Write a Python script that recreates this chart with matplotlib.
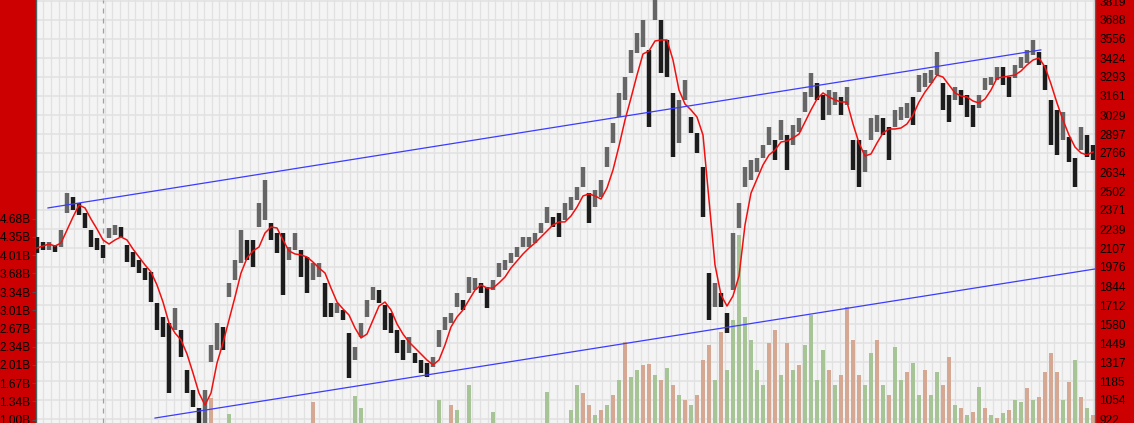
import matplotlib
matplotlib.use("Agg")
import matplotlib.pyplot as plt
import numpy as np

plt.rcParams['font.family'] = ['Liberation Sans', 'DejaVu Sans']

# ---------------- data ----------------
# bar index: one sample per ~6 px of the reference chart
high = [2184, 2149, 2149, 2128, 2232, 2488, 2461, 2419, 2350, 2232,
        2177, 2128, 2246, 2267, 2253, 2128, 2080, 2024, 1969, 1941,
        1726, 1629, 1588, 1692, 1539, 1262, 1123, 999, 1123, 1435,
        1588, 1560, 1865, 2024, 2232, 2163, 2163, 2419, 2579, 2281,
        2211, 2211, 2114, 2211, 2093, 2045, 2003, 2003, 1865, 1726,
        1726, 1678, 1518, 1421, 1588, 1747, 1837, 1816, 1712, 1657,
        1539, 1470, 1491, 1380, 1331, 1310, 1352, 1539, 1629, 1657,
        1796, 1747, 1906, 1899, 1865, 1837, 1886, 2003, 2024, 2073,
        2114, 2184, 2184, 2211, 2281, 2391, 2322, 2350, 2419, 2461,
        2530, 2669, 2488, 2509, 2579, 2807, 2974, 3182, 3292, 3480,
        3597, 3687, 3480, 3830, 3687, 3549, 3182, 3133, 3272, 3015,
        2904, 2669, 1934, 1865, 1796, 1657, 2211, 2419, 2669, 2717,
        2731, 2821, 2946, 2856, 2994, 2890, 2960, 3008, 3188, 3320,
        3251, 3168, 3202, 3188, 3154, 3223, 2856, 2856, 2786, 3008,
        3029, 3008, 2946, 3064, 3084, 3112, 3154, 3306, 3320, 3341,
        3466, 3251, 3168, 3223, 3202, 3168, 3098, 3168, 3285, 3292,
        3362, 3362, 3292, 3376, 3431, 3480, 3549, 3466, 3376, 3133,
        3064, 3050, 2877, 2731, 2946, 2890, 2821]

low = [2073, 2093, 2093, 2080, 2114, 2350, 2371, 2336, 2246, 2114,
       2093, 2038, 2177, 2197, 2184, 2010, 1976, 1934, 1886, 1733,
       1539, 1491, 1100, 1539, 1352, 1102, 1005, 880, 880, 1317,
       1400, 1400, 1768, 1886, 2003, 2024, 1976, 2253, 2301, 2163,
       2073, 1782, 2024, 2093, 1906, 1796, 1886, 1906, 1629, 1629,
       1657, 1608, 1206, 1331, 1491, 1629, 1747, 1726, 1539, 1518,
       1380, 1331, 1380, 1310, 1241, 1213, 1283, 1421, 1539, 1588,
       1698, 1678, 1796, 1816, 1796, 1692, 1816, 1906, 1955, 2003,
       2045, 2114, 2114, 2142, 2211, 2281, 2253, 2184, 2301, 2371,
       2440, 2530, 2281, 2391, 2461, 2669, 2835, 3015, 3133, 3320,
       3459, 3500, 2946, 3687, 3320, 3292, 2738, 2835, 3133, 2904,
       2766, 2322, 1608, 1698, 1698, 1518, 1816, 2246, 2530, 2579,
       2634, 2731, 2821, 2717, 2856, 2648, 2821, 2911, 3050, 3154,
       3133, 2994, 3029, 3098, 3029, 3098, 2648, 2530, 2634, 2856,
       2911, 2890, 2717, 2946, 2994, 3008, 2960, 3188, 3223, 3251,
       3306, 3064, 2980, 3133, 3098, 3015, 2946, 3078, 3202, 3237,
       3272, 3237, 3154, 3285, 3355, 3389, 3445, 3376, 3202, 2821,
       2752, 2856, 2703, 2530, 2786, 2738, 2717]

ma = [2107, 2121, 2135, 2121, 2142, 2232, 2322, 2405, 2385, 2308,
      2239, 2163, 2135, 2163, 2184, 2163, 2100, 2045, 1990, 1941,
      1851, 1733, 1588, 1518, 1470, 1373, 1241, 1102, 1019, 1102,
      1310, 1449, 1608, 1768, 1934, 2038, 2087, 2114, 2211, 2253,
      2246, 2163, 2087, 2066, 2059, 2045, 2010, 1969, 1934, 1830,
      1733, 1685, 1643, 1553, 1484, 1511, 1608, 1705, 1733, 1678,
      1581, 1511, 1456, 1414, 1373, 1331, 1297, 1331, 1435, 1560,
      1629, 1678, 1747, 1816, 1851, 1830, 1830, 1865, 1906, 1969,
      2017, 2066, 2107, 2142, 2184, 2225, 2267, 2288, 2288, 2329,
      2391, 2468, 2482, 2468, 2447, 2523, 2648, 2814, 2994, 3147,
      3306, 3452, 3473, 3542, 3549, 3549, 3410, 3202, 3105, 3064,
      3015, 2890, 2440, 1990, 1782, 1705, 1775, 1913, 2267, 2488,
      2586, 2683, 2752, 2786, 2842, 2849, 2870, 2897, 2980, 3064,
      3140, 3182, 3154, 3133, 3119, 3119, 2967, 2835, 2745, 2759,
      2835, 2904, 2932, 2932, 2939, 2967, 3029, 3119, 3188, 3244,
      3306, 3292, 3237, 3182, 3161, 3154, 3126, 3112, 3140, 3202,
      3285, 3292, 3299, 3306, 3334, 3376, 3410, 3424, 3362, 3244,
      3112, 2994, 2890, 2807, 2766, 2752, 2773]

# volume in billions (values below the axis floor are not visible)
volume = [0.9, 0.9, 0.9, 0.9, 0.9, 0.9, 0.9, 0.9, 0.9, 0.9,
          0.9, 0.9, 0.9, 0.9, 0.9, 0.9, 0.9, 0.9, 0.9, 0.9,
          0.9, 0.9, 0.9, 0.9, 0.9, 0.9, 0.9, 0.9, 0.9, 1.40,
          0.9, 0.9, 1.11, 0.9, 0.9, 0.9, 0.9, 0.9, 0.9, 0.9,
          0.9, 0.9, 0.9, 0.9, 0.9, 0.9, 1.33, 0.9, 0.9, 0.9,
          0.9, 0.9, 0.9, 1.44, 1.22, 0.9, 0.9, 0.9, 0.9, 0.9,
          0.9, 0.9, 0.9, 0.9, 0.9, 0.9, 0.9, 1.37, 0.9, 1.27,
          1.18, 0.9, 1.64, 0.9, 0.9, 0.9, 1.15, 0.9, 0.9, 0.9,
          0.9, 0.9, 0.9, 0.9, 0.9, 1.51, 0.9, 0.9, 0.9, 1.18,
          1.64, 1.49, 1.27, 1.09, 1.18, 1.27, 1.46, 1.73, 2.43, 1.79,
          1.91, 2.01, 2.02, 1.82, 1.73, 1.95, 1.64, 1.46, 1.37, 1.27,
          1.46, 2.10, 2.37, 1.73, 2.61, 1.91, 2.83, 4.38, 2.88, 2.46,
          1.91, 1.64, 2.41, 2.65, 1.82, 2.41, 1.91, 2.01, 2.37, 2.92,
          1.73, 2.28, 1.91, 1.64, 1.82, 3.07, 2.46, 1.82, 1.64, 2.22,
          2.46, 1.64, 1.46, 2.33, 1.73, 1.88, 2.04, 1.46, 1.91, 1.46,
          1.88, 1.64, 2.15, 1.27, 1.22, 1.09, 1.15, 1.60, 1.22, 1.09,
          1.04, 1.13, 1.18, 1.37, 1.33, 1.59, 1.37, 1.42, 1.88, 2.22,
          1.88, 1.37, 1.69, 2.10, 1.42, 1.22, 1.09]

# 1 = up day (green volume), 0 = down day (tan volume)
vol_up = [1, 1, 1, 1, 1, 1, 1, 1, 1, 1,
          1, 1, 1, 1, 1, 1, 1, 1, 1, 1,
          1, 1, 1, 1, 1, 1, 1, 1, 1, 0,
          1, 1, 1, 1, 1, 1, 1, 1, 1, 1,
          1, 1, 1, 1, 1, 1, 0, 1, 1, 1,
          1, 1, 1, 1, 1, 1, 1, 1, 1, 1,
          1, 1, 1, 1, 1, 1, 1, 1, 1, 0,
          1, 1, 1, 1, 1, 1, 1, 1, 1, 1,
          1, 1, 1, 1, 1, 1, 1, 1, 1, 1,
          1, 0, 0, 1, 0, 1, 0, 1, 0, 1,
          1, 0, 0, 1, 0, 1, 0, 1, 0, 1,
          0, 0, 0, 1, 0, 1, 1, 1, 1, 1,
          1, 1, 0, 0, 1, 0, 1, 0, 1, 1,
          1, 1, 0, 1, 0, 0, 0, 0, 1, 1,
          0, 1, 0, 1, 1, 0, 1, 1, 0, 1,
          1, 0, 0, 1, 0, 1, 0, 1, 0, 1,
          0, 1, 0, 1, 1, 0, 1, 0, 0, 0,
          0, 1, 0, 1, 0, 1, 0]

# trend channel anchor points (bar index, price)
upper_x = [1.83, 167.3]
upper_y = [2385, 3480]
lower_x = [19.67, 176.33]
lower_y = [929, 1962]

marker_bar = 11  # dashed vertical separator

price_ticks = [922, 1054, 1185, 1317, 1449, 1580, 1712, 1844, 1976, 2107,
               2239, 2371, 2502, 2634, 2766, 2897, 3029, 3161, 3293, 3424,
               3556, 3688, 3819]
vol_ticks = [1.00, 1.34, 1.67, 2.01, 2.34, 2.67, 3.01, 3.34, 3.68, 4.01,
             4.35, 4.68]

# ---------------- figure ----------------
W, H = 1134, 423
fig = plt.figure(figsize=(W / 100, H / 100), dpi=100, facecolor='#cc0000')
left_px, right_px = 36, 1095
vax = fig.add_axes([left_px / W, 0, (right_px - left_px) / W, 1])
vax.set_facecolor('#f4f4f4')

n = len(high)
x = np.arange(n)
xmin, xmax = -1 / 6, (right_px - 37) / 6
vax.set_xlim(xmin, xmax)
p_lo, p_hi = 894.6, 3826.0
v_lo, v_hi = 0.945, 8.68
vax.set_ylim(v_lo, v_hi)

# grid
grid_c = '#e1e1e1'
for gx in np.arange(1.05, xmax, 7.66 / 6):
    vax.axvline(gx, color=grid_c, lw=0.9, zorder=0)
for p in price_ticks:
    f = (p - p_lo) / (p_hi - p_lo)
    vax.plot([0, 1], [f, f], transform=vax.transAxes, color=grid_c, lw=1.1, zorder=0)

# volume
vcols = ['#a6c496' if u else '#d4a893' for u in vol_up]
vax.bar(x, volume, width=0.8, bottom=0, color=vcols, linewidth=0, zorder=1)

# price axis on top
ax = vax.twinx()
ax.set_ylim(p_lo, p_hi)
ax.set_xlim(xmin, xmax)
ax.axvline(marker_bar, color='#a0a0a0', lw=0.9, ls=(0, (4, 4)), zorder=1)

mid = (np.array(high) + np.array(low)) / 2
bar_cols = ['#666666' if (i > 0 and mid[i] >= mid[i - 1]) else '#1c1c1c' for i in range(n)]
ax.vlines(x, low, high, colors=bar_cols, lw=3.2, zorder=2)
ax.plot(x, ma, color='#f01010', lw=1.1, zorder=3)
ax.plot(upper_x, upper_y, color='#3c3cff', lw=0.9, zorder=4)
ax.plot(lower_x, lower_y, color='#3c3cff', lw=0.9, zorder=4)

# ticks
vax.set_xticks([])
ax.set_xticks([])
vax.set_yticks(vol_ticks)
vax.set_yticklabels([f'{v:.2f}B' for v in vol_ticks])
vax.tick_params(axis='y', direction='out', length=3, width=0.8, color='#505050',
                pad=1, labelsize=8.6, labelcolor='black')
ax.set_yticks(price_ticks)
ax.set_yticklabels([str(p) for p in price_ticks])
ax.tick_params(axis='y', length=0, pad=3, labelsize=8.6, labelcolor='black')

for s in ['top', 'bottom']:
    vax.spines[s].set_visible(False)
for s in ax.spines.values():
    s.set_visible(False)
vax.spines['left'].set_color('#4d6464')
vax.spines['right'].set_color('#4d6464')
vax.spines['left'].set_linewidth(1.0)
vax.spines['right'].set_linewidth(1.0)

fig.savefig('out.png', dpi=100, facecolor=fig.get_facecolor())
